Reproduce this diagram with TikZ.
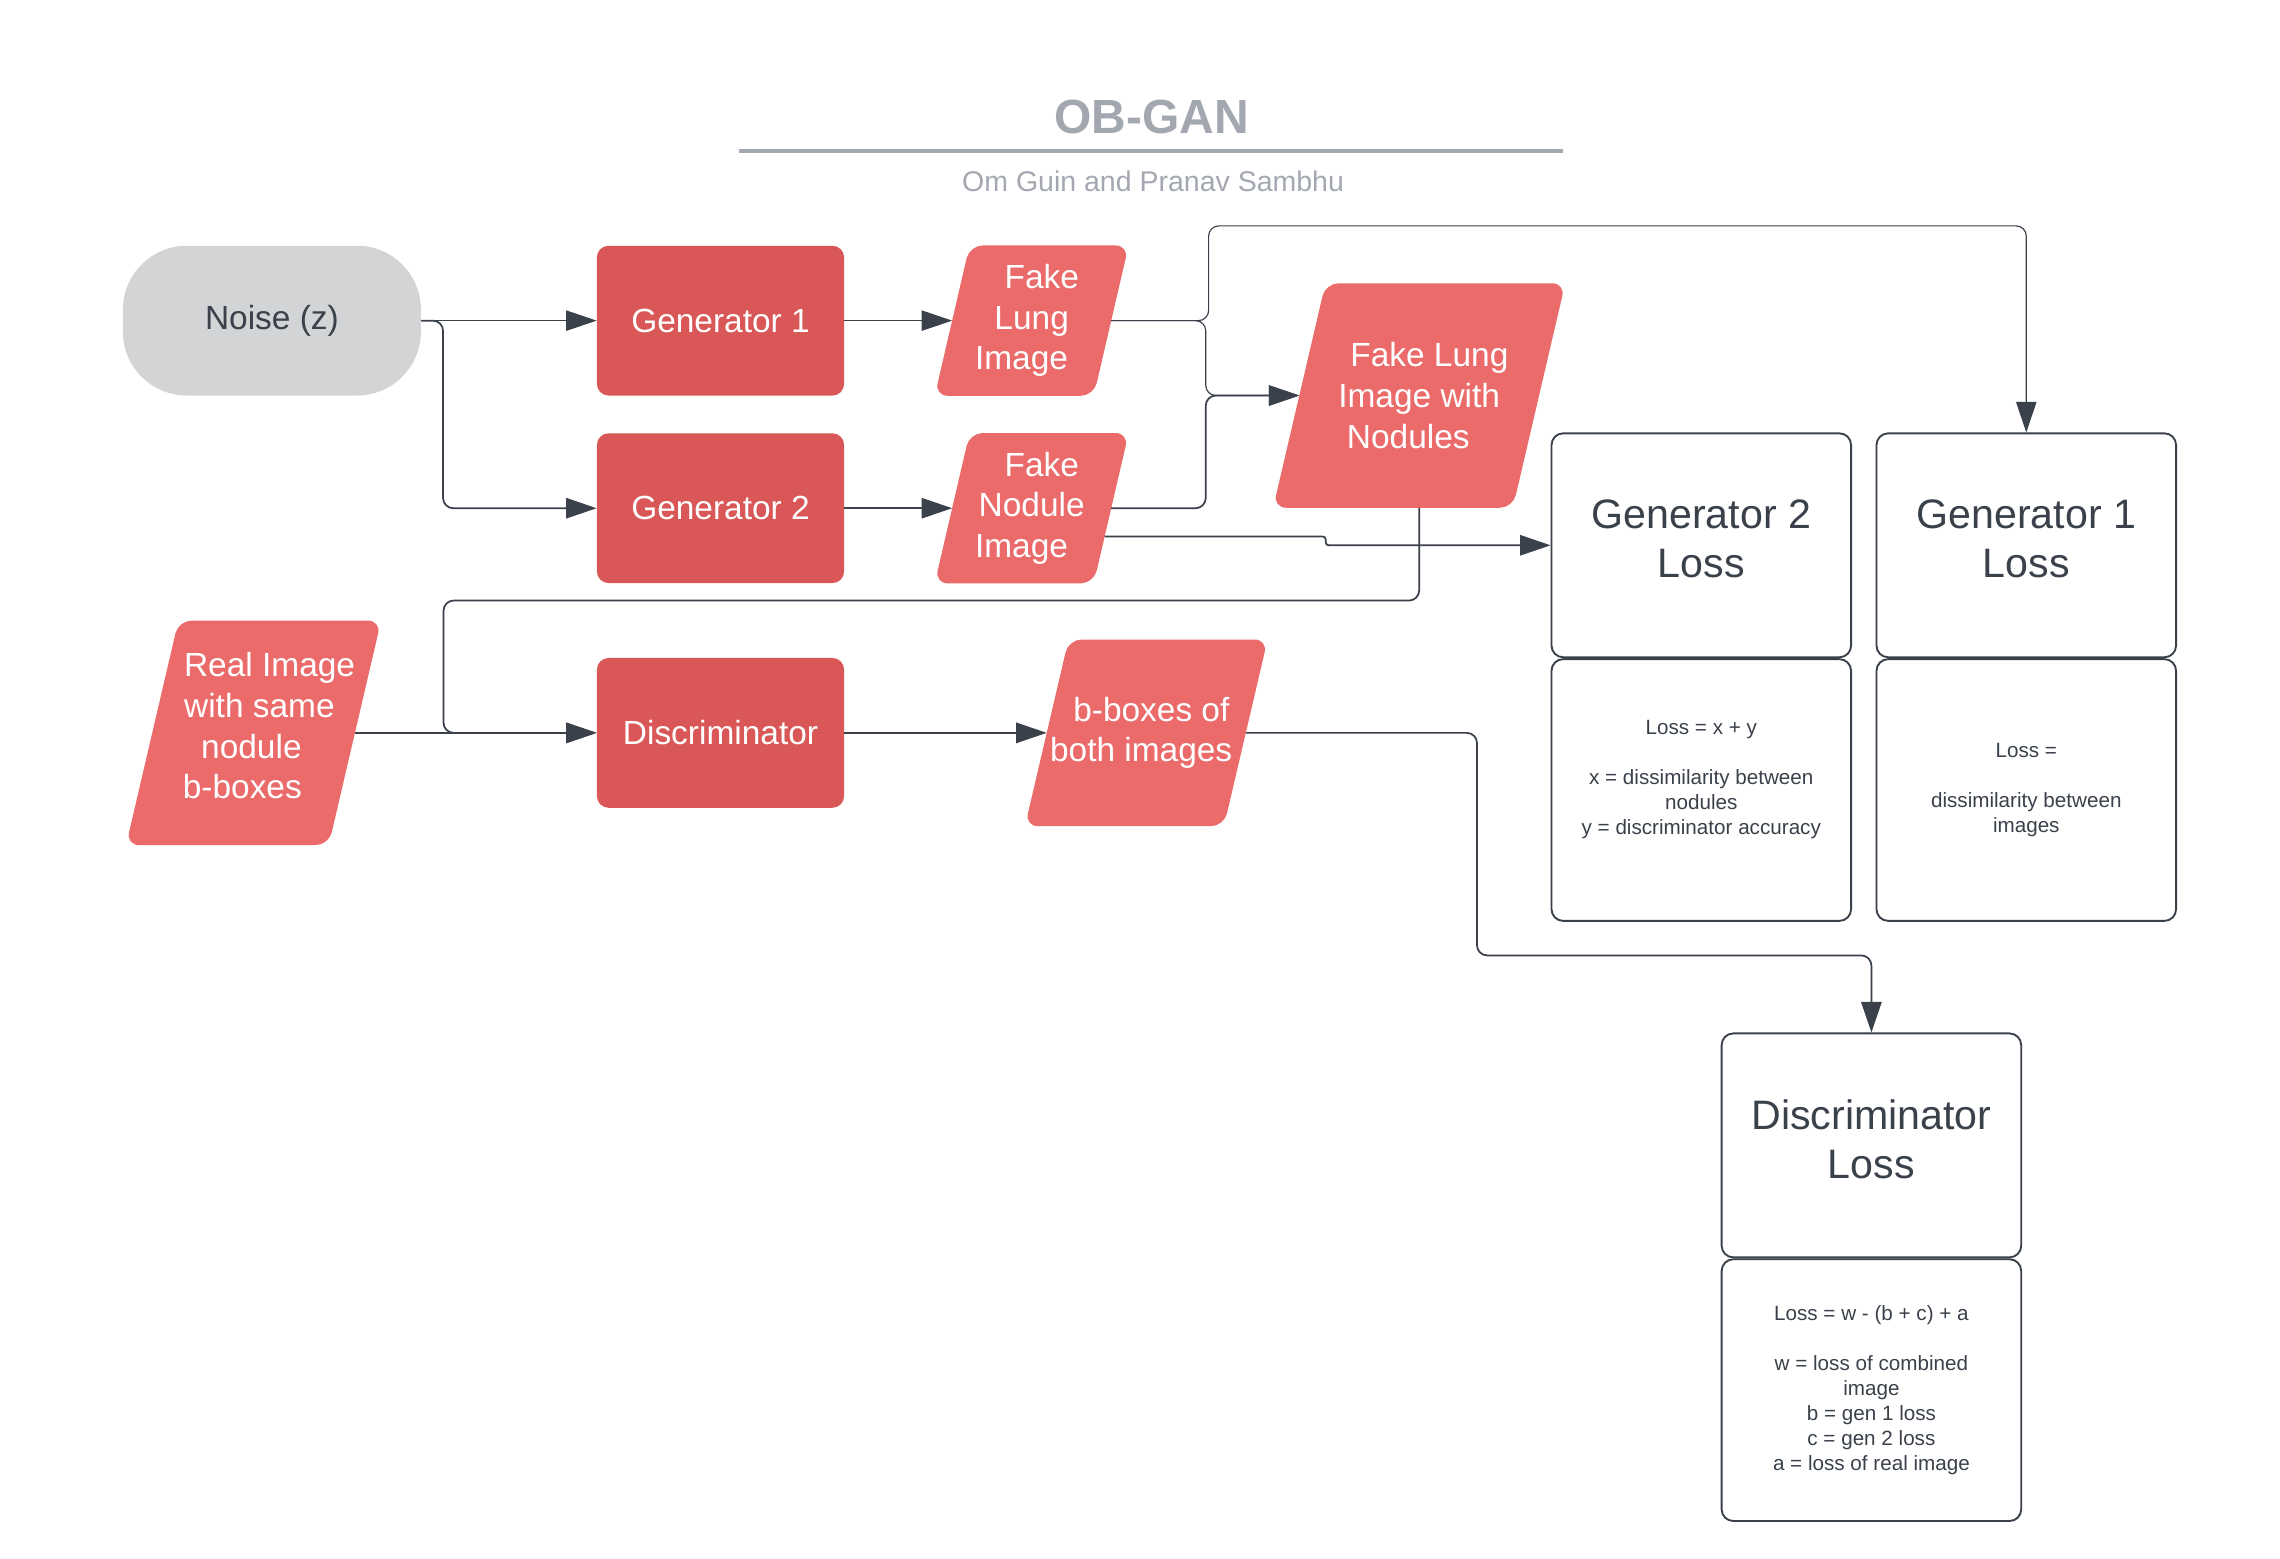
\documentclass[tikz,border=0pt]{standalone}
\usepackage{fontspec}
\setmainfont{Liberation Sans}
\usetikzlibrary{shapes,arrows.meta,positioning,calc}

\definecolor{gendark}{HTML}{D95757}
\definecolor{imgred}{HTML}{EB6B6B}
\definecolor{noisegray}{HTML}{D3D4D6}
\definecolor{inkgray}{HTML}{3A414A}
\definecolor{titlegray}{HTML}{A3A8B0}

% slanted image box: name, position, edge width, height, slant, text
\newcommand{\imgbox}[6]{%
  \node[rectangle, inner sep=0pt, minimum width=#3, minimum height=#4] (#1) at #2 {};
  \fill[imgred, rounded corners=9pt] ($(#1.north west)+(#5/2,0)$) -- ($(#1.north east)+(#5/2,0)$)
    -- ($(#1.south east)-(#5/2,0)$) -- ($(#1.south west)-(#5/2,0)$) -- cycle;
  \node[imgtext] (#1-txt) at (#1.center) {#6};
}
% shift one line of centred text sideways
\newcommand{\sh}[2]{\ifdim#1pt>0pt\hspace*{#1pt}\hspace*{#1pt}#2\else#2\hspace*{-#1pt}\hspace*{-#1pt}\fi}

\begin{document}
\begin{tikzpicture}[x=1pt, y=-1pt,
    nodefont/.style={font=\fontsize{23}{28}\selectfont},
    genbox/.style={rectangle, rounded corners=8pt, fill=gendark, text=white, nodefont, minimum width=170pt, minimum height=103pt},
    imgtext/.style={inner sep=0pt, align=center, text=white, nodefont},
    lossbox/.style={rectangle, draw=inkgray, line width=1.3pt, rounded corners=8pt, minimum width=206pt, minimum height=154pt, align=center, text=inkgray, font=\fontsize{28.3}{34}\selectfont},
    notebox/.style={rectangle, draw=inkgray, line width=1.3pt, rounded corners=8pt, minimum width=206pt, minimum height=180pt, align=center, text=inkgray, font=\fontsize{14.2}{17.3}\selectfont},
    conn/.style={draw=inkgray, line width=1.2pt, rounded corners=7pt, -{Triangle[length=21pt, width=14pt]}},
    thinconn/.style={conn, line width=0.8pt},
  ]
    \useasboundingbox (0,0) rectangle (1568,1072);

    % title
    \node[text=titlegray, font=\bfseries\fontsize{33}{40}\selectfont] (title) at (792,80.5) {OB-GAN};
    \draw[titlegray, line width=3pt] (508,104) -- (1075,104);
    \node[text=titlegray, font=\fontsize{19.6}{24}\selectfont] (authors) at (793,125) {Om Guin and Pranav Sambhu};

    % generators
    \node[rectangle, rounded corners=44pt, fill=noisegray, text=inkgray, nodefont, minimum width=205pt, minimum height=103pt] (noise) at (187,220.5) {Noise (z)};
    \node[genbox] (gen1) at (495.5,220.5) {Generator 1};
    \node[genbox] (gen2) at (495.5,349.5) {Generator 2};
    \node[genbox] (disc) at (495.5,504) {Discriminator};

    % images
    \imgbox{fli}{(709.5,220.5)}{109pt}{103pt}{24}{\sh{7}{Fake}\\Lung\\\sh{-7}{Image}}
    \imgbox{fni}{(709.5,349.5)}{109pt}{103pt}{24}{\sh{7}{Fake}\\Nodule\\\sh{-7}{Image}}
    \imgbox{fliwn}{(976,272)}{164.5pt}{154pt}{36}{\sh{7}{Fake Lung}\\Image with\\\sh{-7.5}{Nodules}}
    \imgbox{real}{(174.4,504)}{139pt}{154pt}{36}{\sh{11}{Real Image}\\\sh{4}{with same}\\\sh{-3}{nodule}\\\sh{-15.5}{b-boxes}\\[-18pt]~}
    \imgbox{bbox}{(788.3,504)}{136.5pt}{128pt}{30}{\sh{3.5}{b-boxes of}\\\sh{-3.5}{both images}}

    % losses
    \node[lossbox] (g2loss) at (1170,375) {Generator 2\\Loss\\[-25pt]~};
    \node[notebox, below=0pt of g2loss] (g2note) {Loss = x + y\\[17pt]x = dissimilarity between\\nodules\\y = discriminator accuracy\\~};
    \node[lossbox] (g1loss) at (1393.5,375) {Generator 1\\Loss\\[-25pt]~};
    \node[notebox, below=0pt of g1loss] (g1note) {Loss =\\[17pt]dissimilarity between\\images};
    \node[lossbox] (dloss) at (1287,787.7) {Discriminator\\Loss\\[-25pt]~};
    \node[notebox, below=0pt of dloss] (dnote) {Loss = w - (b + c) + a\\[17pt]w = loss of combined\\image\\b = gen 1 loss\\c = gen 2 loss\\a = loss of real image};

    \draw[thinconn] (noise.east) -- (gen1.west);
    \draw[conn] (noise.east) -- ++(15,0) |- (gen2.west);
    \draw[thinconn] (gen1.east) -- (fli.west);
    \draw[conn] (gen2.east) -- (fni.west);
    \draw[thinconn] (fli.east) -- ++(67,0) |- ($(g1loss.north)+(0,-142)$) -- (g1loss.north);
    \draw[thinconn] (fli.east) -- ++(65,0) |- (fliwn.west);
    \draw[conn] (fni.east) -- ++(65,0) |- (fliwn.west);
    \draw[conn, rounded corners=2pt] ($(fni.east)+(-4.5,19.5)$) -- ++(152,0) |- (g2loss.west);
    \draw[conn] (fliwn.south) |- (305,413) |- (disc.west);
    \draw[conn] (real.east) -- (disc.west);
    \draw[conn] (disc.east) -- (bbox.west);
    \draw[conn] (bbox.east) -- ++(159,0) |- ($(dloss.north)+(0,-53)$) -- (dloss.north);
\end{tikzpicture}
\end{document}
